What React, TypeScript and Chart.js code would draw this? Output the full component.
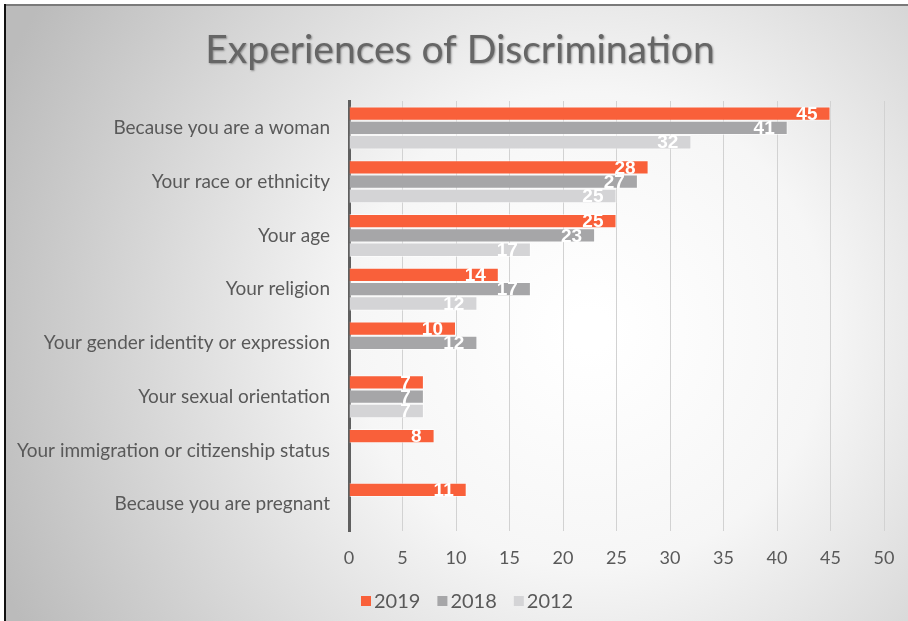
import React, { useEffect, useRef } from "react";
import { Chart, registerables } from "chart.js";

Chart.register(...registerables);

const categories = [
  "Because you are a woman",
  "Your race or ethnicity",
  "Your age",
  "Your religion",
  "Your gender identity or expression",
  "Your sexual orientation",
  "Your immigration or citizenship status",
  "Because you are pregnant",
];
const seriesNames = ["2019", "2018", "2012"];
const values2019 = [45, 28, 25, 14, 10, 7, 8, 11];
const values2018 = [41, 27, 23, 17, 12, 7, null, null];
const values2012 = [32, 25, 17, 12, null, 7, null, null];
const xMin = 0;
const xMax = 50;
const xStep = 5;
const titleText = "Experiences of Discrimination";

const colors = ["#F9603A", "#A6A6A8", "#D4D4D6"];
const FONT = "Lato";

const backgroundPlugin = {
  id: "bgFrame",
  beforeDraw(chart: any) {
    const { ctx, width, height } = chart;
    ctx.save();
    ctx.fillStyle = "#ffffff";
    ctx.fillRect(0, 0, width, height);
    const g = ctx.createRadialGradient(590, 330, 20, 590, 330, 640);
    g.addColorStop(0, "#ffffff");
    g.addColorStop(0.35, "#f6f6f6");
    g.addColorStop(1, "#bbbbbb");
    ctx.fillStyle = g;
    ctx.fillRect(4, 4, width - 4, height - 4);
    ctx.fillStyle = "#7a7a7a";
    ctx.fillRect(4, 4, width - 4, 2);
    ctx.fillStyle = "#111111";
    ctx.fillRect(4, 4, 2, height - 4);
    // title
    ctx.font = `39px ${FONT}`;
    ctx.textAlign = "center";
    ctx.textBaseline = "middle";
    ctx.shadowColor = "rgba(0,0,0,0.35)";
    ctx.shadowOffsetX = 1;
    ctx.shadowOffsetY = 1;
    ctx.shadowBlur = 2;
    ctx.fillStyle = "#666666";
    ctx.fillText(titleText, 460, 50);
    ctx.restore();
  },
};

const labelsPlugin = {
  id: "barLabels",
  afterDatasetsDraw(chart: any) {
    const { ctx } = chart;
    ctx.save();
    ctx.font = `bold 19px "Liberation Sans"`;
    ctx.fillStyle = "#ffffff";
    ctx.textAlign = "right";
    ctx.textBaseline = "middle";
    chart.data.datasets.forEach((ds: any, i: number) => {
      const meta = chart.getDatasetMeta(i);
      meta.data.forEach((bar: any, j: number) => {
        const v = ds.data[j];
        if (v === null || v === undefined) return;
        ctx.fillText(String(v), bar.x - 13, bar.y + 1);
      });
    });
    ctx.restore();
  },
};

const legendPlugin = {
  id: "customLegend",
  afterDraw(chart: any) {
    const { ctx } = chart;
    ctx.save();
    ctx.font = `20px ${FONT}`;
    ctx.textBaseline = "middle";
    ctx.textAlign = "left";
    const y = 601;
    let x = 361;
    seriesNames.forEach((name, i) => {
      ctx.fillStyle = colors[i];
      ctx.fillRect(x, y - 5, 10, 10);
      ctx.fillStyle = "#595959";
      ctx.fillText(name, x + 13, y + 1);
      x += 13 + ctx.measureText(name).width + 17;
    });
    ctx.restore();
  },
};

export default function App() {
  const ref = useRef<HTMLCanvasElement>(null);
  useEffect(() => {
    if (!ref.current) return;
    const datasets = [values2019, values2018, values2012].map((d, i) => ({
      label: seriesNames[i],
      data: d,
      backgroundColor: colors[i],
      borderColor: "rgba(255,255,255,0.55)",
      borderWidth: 1,
      categoryPercentage: 0.8,
      barPercentage: 1.0,
    }));
    const chart = new Chart(ref.current, {
      type: "bar",
      data: { labels: categories, datasets },
      options: {
        indexAxis: "y",
        responsive: false,
        animation: false,
        layout: { padding: { top: 101, right: 24, bottom: 50, left: 0 } },
        plugins: {
          legend: { display: false },
          title: { display: false },
          tooltip: { enabled: false },
        },
        scales: {
          x: {
            min: xMin,
            max: xMax,
            ticks: {
              stepSize: xStep,
              color: "#595959",
              font: { family: FONT, size: 18 },
              padding: 16,
            },
            grid: { color: "#d2d2d2", lineWidth: 1, drawTicks: false },
            border: { display: false },
            afterFit(scale: any) {
              scale.height = 40;
              scale.paddingRight = 0;
              scale.paddingLeft = 0;
            },
          },
          y: {
            ticks: {
              color: "#595959",
              font: { family: FONT, size: 19 },
              padding: 19,
            },
            grid: { display: false, drawTicks: false },
            border: { display: true, color: "#5f5f5f", width: 3 },
            afterFit(scale: any) {
              scale.width = 349;
            },
          },
        },
      },
      plugins: [backgroundPlugin, labelsPlugin, legendPlugin],
    });
    return () => chart.destroy();
  }, []);
  return (
    <div style={{ position: "fixed", left: 0, top: 0, width: 908, height: 621 }}>
      <canvas ref={ref} width={908} height={621} />
    </div>
  );
}
